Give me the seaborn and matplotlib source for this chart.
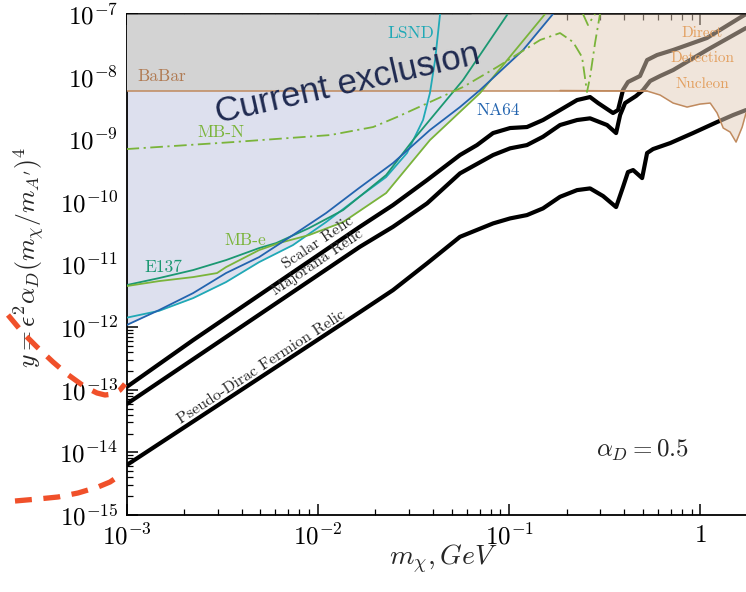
import numpy as np
import matplotlib
matplotlib.use("Agg")
import matplotlib.pyplot as plt
import seaborn as sns
from matplotlib.lines import Line2D
from matplotlib.ticker import FuncFormatter, LogLocator, NullFormatter

# ---------------- data (log10 of m_chi [GeV] and log10 of y) ----------------
babar_lgm = [-3.0, -0.28]
babar_lgy = [-8.222, -8.222]

dd_lgm = [-0.734, -0.279, -0.211, -0.143, -0.070, -0.002, 0.051, 0.087, 0.119, 0.155, 0.186, 0.218, 0.238]
dd_lgy = [-8.222, -8.230, -8.294, -8.422, -8.486, -8.438, -8.422, -8.581, -8.821, -8.885, -9.045, -8.805, -8.581]

na64_lgm = [-3.0, -2.830, -2.652, -2.480, -2.307, -2.130, -1.957, -1.785, -1.607, -1.414, -1.257, -1.152, -0.927, -0.771]
na64_lgy = [-11.968, -11.728, -11.457, -11.137, -10.882, -10.530, -10.179, -9.780, -9.380, -8.853, -8.486, -8.214, -7.575, -7.0]

lsnd_lgm = [-3.0, -2.830, -2.652, -2.480, -2.307, -2.130, -1.957, -1.785, -1.643, -1.534, -1.450, -1.414, -1.387, -1.361]
lsnd_lgy = [-11.85, -11.740, -11.537, -11.281, -10.962, -10.690, -10.323, -9.923, -9.604, -9.220, -8.693, -8.262, -7.735, -7.0]

e137_lgm = [-3.0, -2.830, -2.652, -2.480, -2.307, -2.218, -2.046, -1.868, -1.643, -1.502, -1.241, -1.011]
e137_lgy = [-11.329, -11.217, -11.089, -10.930, -10.738, -10.658, -10.419, -10.131, -9.572, -9.013, -8.054, -7.016]

mbe_lgm = [-3.0, -2.830, -2.652, -2.527, -2.480, -2.307, -2.203, -2.046, -1.868, -1.643, -1.414, -1.152, -0.812]
mbe_lgy = [-11.345, -11.265, -11.201, -11.137, -11.042, -10.770, -10.658, -10.530, -10.323, -9.859, -9.013, -8.262, -7.0]

mbn_lgm = [-3.0, -2.442, -1.935, -1.711, -1.586, -1.241, -1.063, -0.838, -0.734, -0.666, -0.619, -0.593, -0.577, -0.551, -0.525]
mbn_lgy = [-9.157, -9.045, -8.933, -8.805, -8.645, -8.166, -7.847, -7.415, -7.304, -7.447, -7.687, -8.246, -8.006, -7.463, -7.0]
mbn_v_lgm = [-0.614, -0.588, -0.551]
mbn_v_lgy = [-7.0, -7.176, -7.0]

scalar_lgm = [-3.0, -2.652, -1.780, -1.607, -1.429, -1.257, -1.168, -1.084, -0.995, -0.907, -0.823, -0.734,
              -0.645, -0.577, -0.535, -0.457, -0.431, -0.405, -0.379, -0.316, -0.279, -0.227, -0.143, 0.034, 0.238]
scalar_lgy = [-12.958, -12.208, -10.397, -10.051, -9.652, -9.252, -9.093, -8.901, -8.821, -8.805, -8.693, -8.534,
              -8.374, -8.326, -8.422, -8.581, -8.534, -8.214, -8.086, -7.990, -7.735, -7.655, -7.575, -7.383, -7.0]

maj_lgm = [-3.0, -1.780, -1.607, -1.429, -1.257, -1.084, -0.995, -0.907, -0.823, -0.734, -0.645, -0.577,
           -0.488, -0.441, -0.420, -0.394, -0.337, -0.300, -0.263, -0.211, -0.143, 0.034, 0.238]
maj_lgy = [-13.230, -10.717, -10.398, -10.024, -9.545, -9.252, -9.145, -9.093, -8.960, -8.773, -8.693, -8.666,
           -8.773, -8.901, -8.613, -8.422, -8.310, -8.214, -8.070, -7.990, -7.895, -7.575, -7.224]

pd_lgm = [-3.0, -1.780, -1.607, -1.429, -1.257, -1.084, -0.995, -0.907, -0.823, -0.734, -0.645, -0.577,
          -0.509, -0.441, -0.405, -0.379, -0.352, -0.305, -0.279, -0.248, -0.158, -0.039, 0.087, 0.171, 0.238]
pd_lgy = [-14.205, -11.760, -11.409, -10.982, -10.558, -10.344, -10.264, -10.211, -10.104, -9.919, -9.812, -9.785,
          -9.907, -10.083, -9.764, -9.524, -9.492, -9.620, -9.220, -9.157, -9.061, -8.901, -8.725, -8.613, -8.534]

x_lim = (1e-3, 10 ** 0.238)
y_lim = (1e-15, 1e-7)

# ---------------- style ----------------
sns.set_theme(style="ticks")
plt.rcParams["font.family"] = ["DejaVu Sans"]
plt.rcParams["mathtext.fontset"] = "cm"

C_GRAY = "#d3d3d3"
C_LAV = "#dde0ee"
C_BEIGE = "#e3cdb9"
C_BROWN = "#c08a5e"
C_NA64 = "#2364af"
C_LSND = "#20a9b6"
C_E137 = "#1b9872"
C_MB = "#7ab43a"
C_DD = "#e3a060"
SERIF = ["cmr10", "DejaVu Serif"]

fig = plt.figure(figsize=(7.46, 5.92), dpi=100)
ax = fig.add_axes([126.5 / 746, 1 - 515 / 592, 1 - 126.5 / 746, (515 - 14) / 592])
ax.set_xscale("log")
ax.set_yscale("log")

P = lambda a: 10 ** np.asarray(a, dtype=float)

# ---------------- filled regions ----------------
grid = np.linspace(-3.0, 0.238, 1200)
env = np.min([np.interp(grid, m, y, right=-7.0) for m, y in
              [(na64_lgm, na64_lgy), (lsnd_lgm, lsnd_lgy), (e137_lgm, e137_lgy), (mbe_lgm, mbe_lgy)]], axis=0)
bb = babar_lgy[0]
ax.fill_between(P(grid), P(np.minimum(env, bb)), P(np.full_like(grid, bb)), color=C_LAV, lw=0, zorder=1)

g2 = grid[grid >= -1.2]
ax.fill_between(P(g2), P(np.interp(g2, dd_lgm, dd_lgy)), P(np.full_like(g2, -7.0)),
                color=C_BEIGE, alpha=0.5, lw=0, zorder=3)

gray_low = np.minimum(np.maximum(bb, np.interp(grid, na64_lgm, na64_lgy, right=-6.0)), -7.0)
ax.fill_between(P(grid), P(gray_low), P(np.full_like(grid, -7.0)), color=C_GRAY, lw=0, zorder=3.5)

# ---------------- relic lines ----------------
for m, y in [(scalar_lgm, scalar_lgy), (maj_lgm, maj_lgy), (pd_lgm, pd_lgy)]:
    sns.lineplot(x=P(m), y=P(y), color="black", lw=3.0, sort=False, estimator=None, ax=ax,
                 zorder=2, solid_joinstyle="round")

# ---------------- constraint lines ----------------
sns.lineplot(x=P(babar_lgm), y=P(babar_lgy), color=C_BROWN, lw=1.1, sort=False, estimator=None, ax=ax, zorder=5)
sns.lineplot(x=P(dd_lgm), y=P(dd_lgy), color=C_BROWN, lw=1.1, sort=False, estimator=None, ax=ax, zorder=5)
for m, y, c in [(lsnd_lgm, lsnd_lgy, C_LSND), (e137_lgm, e137_lgy, C_E137),
                (mbe_lgm, mbe_lgy, C_MB), (na64_lgm, na64_lgy, C_NA64)]:
    sns.lineplot(x=P(m), y=P(y), color=c, lw=1.3, sort=False, estimator=None, ax=ax, zorder=6,
                 solid_joinstyle="round")
for m, y in [(mbn_lgm, mbn_lgy), (mbn_v_lgm, mbn_v_lgy)]:
    sns.lineplot(x=P(m), y=P(y), color=C_MB, lw=1.3, sort=False, estimator=None, ax=ax, zorder=6,
                 linestyle=(0, (7, 2.5, 1.2, 2.5)))

# ---------------- axes ----------------
ax.set_xlim(*x_lim)
ax.set_ylim(*y_lim)


def fmt(v, pos):
    e = int(round(np.log10(v)))
    return r"$1$" if e == 0 else r"$10^{%d}$" % e


for axis in (ax.xaxis, ax.yaxis):
    axis.set_major_locator(LogLocator(base=10, numticks=20))
    axis.set_minor_locator(LogLocator(base=10, subs=np.arange(2, 10), numticks=200))
    axis.set_major_formatter(FuncFormatter(fmt))
    axis.set_minor_formatter(NullFormatter())

ax.tick_params(which="both", direction="in", top=True, right=False, colors="black", labelsize=18)
ax.tick_params(which="major", length=8, width=1.1)
ax.tick_params(which="minor", length=4, width=0.9)
ax.tick_params(axis="y", pad=6)
ax.tick_params(axis="x", pad=6)
for s in ["left", "bottom", "top"]:
    ax.spines[s].set_color("black")
    ax.spines[s].set_linewidth(1.3)
ax.spines["right"].set_visible(False)

ax.set_xlabel(r"$m_\chi, GeV$", fontsize=20)
ax.set_ylabel(r"$y = \epsilon^2\alpha_D(m_\chi/m_{A^\prime})^4$", fontsize=18.5)
ax.xaxis.set_label_coords((443 - 126.5) / 619.5, -(543 - 515) / 501)
ax.yaxis.set_label_coords(-(126.5 - 47) / 619.5, (515 - 257) / 501)

# ---------------- labels ----------------
ax.text(1.135e-3, 1.02e-8, "BaBar", color="#b07a52", fontsize=12.5, family=SERIF, va="center", ha="left", zorder=7)
ax.text(2.34e-3, 1.30e-9, "MB-N", color=C_MB, fontsize=12.5, family=SERIF, va="center", ha="left", zorder=7)
ax.text(0.0307, 5.0e-8, "LSND", color=C_LSND, fontsize=12.5, family=SERIF, va="center", ha="center", zorder=7)
ax.text(0.0875, 2.92e-9, "NA64", color=C_NA64, fontsize=12.5, family=SERIF, va="center", ha="center", zorder=7)
ax.text(4.16e-3, 2.45e-11, "MB-e", color=C_MB, fontsize=12.5, family=SERIF, va="center", ha="center", zorder=7)
ax.text(1.56e-3, 9.1e-12, "E137", color=C_E137, fontsize=12.5, family=SERIF, va="center", ha="center", zorder=7)
for txt, yy in [("Direct", 5.0e-8), ("Detection", 2.0e-8), ("Nucleon", 7.6e-9)]:
    ax.text(1.02, yy, txt, color=C_DD, fontsize=11, family=SERIF, va="center", ha="center", zorder=7)

ax.text(0.01028, 1.99e-11, "Scalar Relic", fontsize=11.5, family=SERIF, rotation=34,
        rotation_mode="anchor", va="baseline", ha="center", zorder=7)
ax.text(0.01028, 9.6e-12, "Majorana Relic", fontsize=11.5, family=SERIF, rotation=34,
        rotation_mode="anchor", va="baseline", ha="center", zorder=7)
ax.text(5.2e-3, 2.06e-13, "Pseudo-Dirac Fermion Relic", fontsize=11.5, family=SERIF, rotation=33,
        rotation_mode="anchor", va="baseline", ha="center", zorder=7)

ax.text(0.495, 1.08e-14, r"$\alpha_D = 0.5$", fontsize=18, va="center", ha="center", zorder=7)

fig.text(218 / 746, 1 - 123 / 592, "Current exclusion", fontsize=25, color="#1f2a50",
         family=["Liberation Sans", "DejaVu Sans"], rotation=12.8, rotation_mode="anchor",
         ha="left", va="baseline", zorder=10)

# ---------------- hand-drawn red dashed annotation ----------------
arc1 = [(8, 315), (23, 333), (37, 347), (53, 362), (67, 374), (85, 387), (97, 393), (105, 395),
        (113, 394), (120, 390), (125, 384)]
arc2 = [(15, 501), (38, 499), (58, 497), (78, 493), (98, 487), (110, 482), (119, 476)]
for arc in (arc1, arc2):
    xs = [p[0] / 746 for p in arc]
    ys = [1 - p[1] / 592 for p in arc]
    fig.add_artist(Line2D(xs, ys, transform=fig.transFigure, color="#f0502a", lw=3.8,
                          linestyle=(0, (3.2, 2.2)), dash_capstyle="butt", zorder=20))

fig.savefig("out.png", dpi=100)
